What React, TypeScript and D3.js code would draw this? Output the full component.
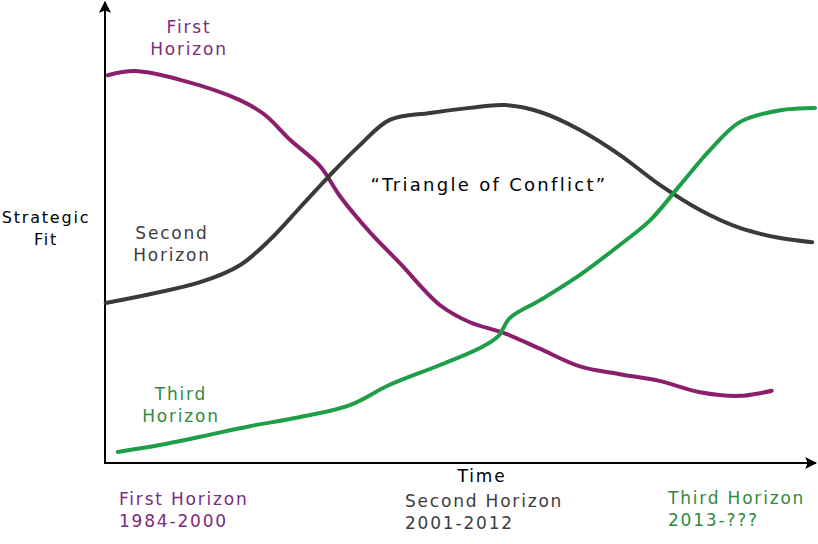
import React from "react";
import * as d3 from "d3";

// time (0-100) vs strategic fit (0-100)
const firstHorizon: [number, number][] = [
  [0.4, 84.3], [4.2, 85.2], [10.6, 83.3], [19.0, 78.9], [22.5, 75.7], [26.1, 70.2],
  [30.3, 64.5], [33.1, 58.0], [37.3, 50.2], [41.5, 43.5], [47.2, 34.3], [51.4, 30.6],
  [56.3, 28.2], [61.3, 24.8], [66.9, 21.0], [72.5, 19.3], [78.2, 17.8], [83.8, 15.4],
  [89.4, 14.6], [93.9, 15.7],
];
const secondHorizon: [number, number][] = [
  [0.1, 34.8], [6.3, 36.7], [13.4, 39.3], [19.0, 43.0], [23.2, 48.5], [27.5, 55.6],
  [31.7, 62.6], [35.9, 69.1], [40.1, 74.6], [45.8, 76.1], [51.4, 77.2], [56.3, 77.8],
  [61.3, 76.3], [66.9, 72.4], [72.5, 67.0], [78.2, 60.4], [83.8, 55.0], [89.4, 51.1],
  [95.1, 48.9], [99.6, 48.0],
];
const thirdHorizon: [number, number][] = [
  [1.8, 2.4], [7.7, 3.9], [13.4, 5.7], [20.4, 8.0], [27.5, 10.0], [34.5, 12.6],
  [40.1, 17.0], [47.2, 21.3], [52.8, 25.0], [55.4, 27.6], [57.0, 31.5], [61.3, 35.4],
  [66.9, 40.9], [72.5, 47.4], [76.8, 52.8], [81.0, 60.4], [85.2, 68.0], [89.4, 74.1],
  [95.1, 76.7], [100, 77.2],
];

const horizonLabels = ["First\nHorizon", "Second\nHorizon", "Third\nHorizon"];
const periodLabels = ["First Horizon\n1984-2000", "Second Horizon\n2001-2012", "Third Horizon\n2013-???"];
const axisLabels = ["Strategic\nFit", "Time"];
const annotation = "\u201CTriangle of Conflict\u201D";

const W = 818, H = 544;
const FONT = "'DejaVu Sans', sans-serif";

export default function App() {
  const x = d3.scaleLinear().domain([0, 100]).range([105, 815]);
  const y = d3.scaleLinear().domain([0, 100]).range([463, 3]);
  const line = d3.line<[number, number]>().x(d => x(d[0])).y(d => y(d[1])).curve(d3.curveCatmullRom.alpha(0.5));

  const series = [
    { data: firstHorizon, stroke: "#8b1f6b" },
    { data: secondHorizon, stroke: "#3a3a3a" },
    { data: thirdHorizon, stroke: "#1e9e48" },
  ];
  const textCol = ["#7b2a7d", "#3d3d3d", "#2f8a3f"];

  const multi = (s: string, cx: number, cy: number, anchor: string, color: string, size = 17, lh = 22) =>
    s.split("\n").map((t, i) => (
      <text key={i} x={cx} y={cy + i * lh} textAnchor={anchor as any} fill={color}
        fontFamily={FONT} fontSize={size} letterSpacing={1.8} dominantBaseline="middle">{t}</text>
    ));

  return (
    <svg width={W} height={H} style={{ position: "absolute", left: 0, top: 0, background: "#fff" }}>
      <defs>
        <marker id="arr" viewBox="0 0 10 10" refX="9" refY="5" markerWidth="6" markerHeight="6" orient="auto">
          <path d="M0,0 L10,5 L0,10 L2,5 z" fill="#000" />
        </marker>
      </defs>
      {/* axes */}
      <line x1={x(0)} y1={y(-0.2)} x2={x(0)} y2={2} stroke="#000" strokeWidth={2} markerEnd="url(#arr)" />
      <line x1={x(0)} y1={y(0)} x2={816} y2={y(0)} stroke="#000" strokeWidth={2} markerEnd="url(#arr)" />

      {series.map((s, i) => (
        <path key={i} d={line(s.data) || ""} fill="none" stroke={s.stroke} strokeWidth={4} strokeLinecap="round" />
      ))}

      {multi(horizonLabels[0], 189, 28, "middle", textCol[0])}
      {multi(horizonLabels[1], 172, 234, "middle", textCol[1])}
      {multi(horizonLabels[2], 181, 395, "middle", textCol[2])}

      {multi(axisLabels[0], 46, 218, "middle", "#000", 16)}
      {multi(axisLabels[1], 482, 477, "middle", "#000")}

      {multi(periodLabels[0], 119, 500, "start", textCol[0])}
      {multi(periodLabels[1], 405, 502, "start", textCol[1])}
      {multi(periodLabels[2], 668, 499, "start", textCol[2])}

      <text x={489} y={186} textAnchor="middle" dominantBaseline="middle" fontFamily={FONT} fontSize={18} letterSpacing={2.3} fill="#000">{annotation}</text>
    </svg>
  );
}
